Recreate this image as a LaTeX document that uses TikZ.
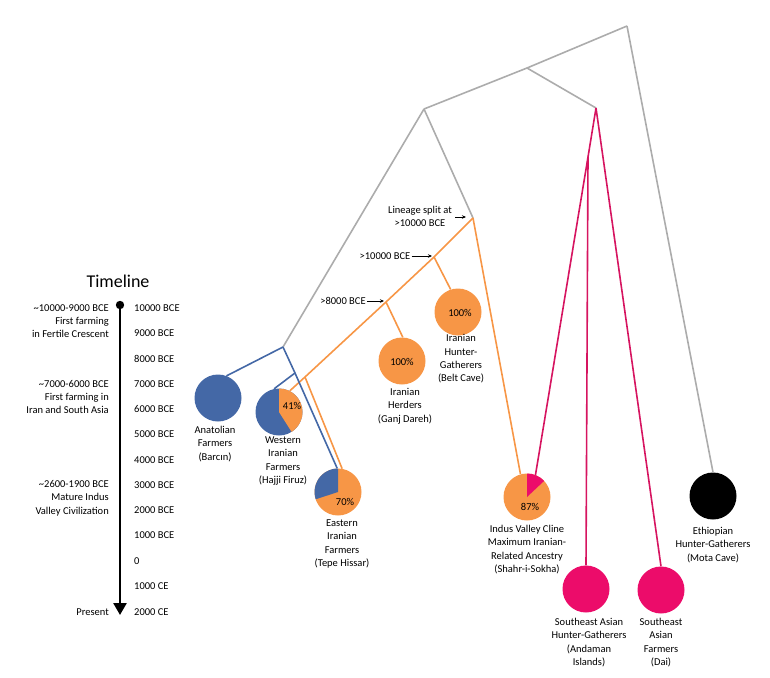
\documentclass[tikz,border=0pt]{standalone}
\usepackage{fontspec}
\setmainfont{Carlito}
\usetikzlibrary{arrows.meta}
\definecolor{lgray}{RGB}{172,172,172}
\definecolor{dblue}{RGB}{68,104,166}
\definecolor{orng}{RGB}{247,150,70}
\definecolor{pinkf}{RGB}{236,12,106}
\definecolor{pinkl}{RGB}{214,20,96}
\begin{document}
\begin{tikzpicture}[x=1pt,y=1pt,
  lbl/.style={font=\fontsize{10.5}{13.3}\selectfont, align=center, inner sep=0pt},
  tlr/.style={font=\fontsize{10.5}{13.3}\selectfont, anchor=west, inner sep=0pt},
  tll/.style={font=\fontsize{10.5}{13.3}\selectfont, align=right, anchor=east, inner sep=0pt},
  disc/.style={circle, minimum size=47pt, inner sep=0pt},
  gline/.style={draw=lgray, line width=1.6pt},
  bline/.style={draw=dblue, line width=1.6pt},
  oline/.style={draw=orng, line width=1.6pt},
  pline/.style={draw=pinkl, line width=1.6pt},
  ptr/.style={draw=black, line width=0.9pt, -{Stealth[length=4pt,width=3.5pt]}}
]
\useasboundingbox (0,0) rectangle (770,-677);

% junction coordinates
\coordinate (root) at (627,-26);
\coordinate (gA) at (527,-68);
\coordinate (gB) at (424,-109);
\coordinate (pk) at (596,-108);
\coordinate (pk2) at (588,-157);
\coordinate (bl) at (283,-347);
\coordinate (bl2) at (295,-373);
\coordinate (ls) at (473,-218);
\coordinate (o1) at (434,-257);
\coordinate (o2) at (386,-302);
\coordinate (o3) at (305,-377);

% discs
\node[disc, fill=dblue] (anat) at (218,-398) {};
\node[disc] (west) at (279,-412) {};
\fill[dblue] (west.center) circle[radius=23.5];
\fill[orng] (west.center) -- ++(90:23.5) arc[start angle=90, end angle=-57.6, radius=23.5] -- cycle;
\node[disc] (east) at (338,-492) {};
\fill[orng] (east.center) circle[radius=23.5];
\fill[dblue] (east.center) -- ++(90:23.5) arc[start angle=90, end angle=198, radius=23.5] -- cycle;
\node[disc, fill=orng] (ganj) at (402,-361) {};
\node[disc, fill=orng] (belt) at (458,-312) {};
\node[disc] (indus) at (527,-497) {};
\fill[orng] (indus.center) circle[radius=23.5];
\fill[pinkf] (indus.center) -- ++(90:23.5) arc[start angle=90, end angle=43.2, radius=23.5] -- cycle;
\node[disc, fill=black] (eth) at (713,-496) {};
\node[disc, fill=pinkf] (anda) at (586,-589) {};
\node[disc, fill=pinkf] (dai) at (661,-590) {};

% gray tree
\draw[gline] (root) -- (gA) -- (gB);
\draw[gline] (gA) -- (pk);
\draw[gline] (root) -- (eth.90);
\draw[gline] (gB) -- (bl);
\draw[gline] (gB) -- (ls);

% pink lineage
\draw[pline] (pk) -- (pk2) -- (indus.69);
\draw[pline] (pk2) -- (anda.90);
\draw[pline] (pk) -- (dai.90);

% orange lineage
\draw[oline] (ls) -- (o1) -- (o2) -- (o3) -- (west.63);
\draw[oline] (o1) -- (belt.108);
\draw[oline] (o2) -- (ganj.88);
\draw[oline] (o3) -- (east.80);
\draw[oline] (ls) -- (indus.106);

% blue lineage
\draw[bline] (bl) -- (anat.69);
\draw[bline] (bl) -- (bl2) -- (east.92);
\draw[bline] (bl2) -- (west.102);

% percentages
\node[lbl] (p41) at (292,-406) {41\%};
\node[lbl] (p70) at (345,-502) {70\%};
\node[lbl] (p100a) at (402,-362) {100\%};
\node[lbl] (p100b) at (460,-313) {100\%};
\node[lbl] (p87) at (530,-507) {87\%};

% population labels
\node[lbl] (tanat) at (215,-444) {Anatolian\\Farmers\\(Barcın)};
\node[lbl] (twest) at (283,-461) {Western\\Iranian\\Farmers\\(Hajji Firuz)};
\node[lbl] (teast) at (342,-544) {Eastern\\Iranian\\Farmers\\(Tepe Hissar)};
\node[lbl] (tganj) at (405,-406) {Iranian\\Herders\\(Ganj Dareh)};
\node[lbl] (tbelt) at (461,-359) {Iranian\\Hunter-\\Gatherers\\(Belt Cave)};
\node[lbl] (tindus) at (527,-549.5) {Indus Valley Cline\\Maximum Iranian-\\Related Ancestry\\(Shahr-i-Sokha)};
\node[lbl] (teth) at (713,-545) {Ethiopian\\Hunter-Gatherers\\(Mota Cave)};
\node[lbl] (tanda) at (589,-642.5) {Southeast Asian\\Hunter-Gatherers\\(Andaman\\Islands)};
\node[lbl] (tdai) at (661,-642.5) {Southeast\\Asian\\Farmers\\(Dai)};

% split annotations
\node[lbl] (tls) at (420,-216.5) {Lineage split at\\>10000 BCE};
\coordinate (ls_pt) at (466,-217);
\draw[ptr] (tls.east |- ls_pt) ++(3,0) -- (ls_pt);
\node[lbl] (to1) at (385,-256) {>10000 BCE};
\coordinate (o1_pt) at (432,-256);
\draw[ptr] (to1.east) ++(1,0) -- (o1_pt);
\node[lbl] (to2) at (343,-301) {>8000 BCE};
\coordinate (o2_pt) at (384,-301);
\draw[ptr] (to2.east) ++(1,0) -- (o2_pt);

% timeline
\node[font=\fontsize{18}{20}\selectfont, inner sep=0pt] (title) at (118,-281) {Timeline};
\coordinate (tltop) at (120,-305);
\coordinate (tlbot) at (120,-615);
\draw[line width=2.6pt, -{Triangle[width=13pt,length=12pt]}] (tltop) -- (tlbot);
\fill (tltop) circle[radius=4.2];

\node[tlr] (y1) at (134,-308) {10000 BCE};
\node[tlr] (y2) at (134,-333) {9000 BCE};
\node[tlr] (y3) at (134,-359) {8000 BCE};
\node[tlr] (y4) at (134,-384) {7000 BCE};
\node[tlr] (y5) at (134,-409) {6000 BCE};
\node[tlr] (y6) at (134,-434) {5000 BCE};
\node[tlr] (y7) at (134,-460) {4000 BCE};
\node[tlr] (y8) at (134,-485) {3000 BCE};
\node[tlr] (y9) at (134,-510) {2000 BCE};
\node[tlr] (y10) at (134,-535) {1000 BCE};
\node[tlr] (y11) at (134,-561) {0};
\node[tlr] (y12) at (134,-586) {1000 CE};
\node[tlr] (y13) at (134,-612) {2000 CE};

\node[tll] (e1) at (109,-321) {\textasciitilde10000-9000 BCE\\First farming\\in Fertile Crescent};
\node[tll] (e2) at (109,-397) {\textasciitilde7000-6000 BCE\\First farming in\\Iran and South Asia};
\node[tll] (e3) at (109,-498) {\textasciitilde2600-1900 BCE\\Mature Indus\\Valley Civilization};
\node[tll] (e4) at (109,-612) {Present};
\end{tikzpicture}
\end{document}
